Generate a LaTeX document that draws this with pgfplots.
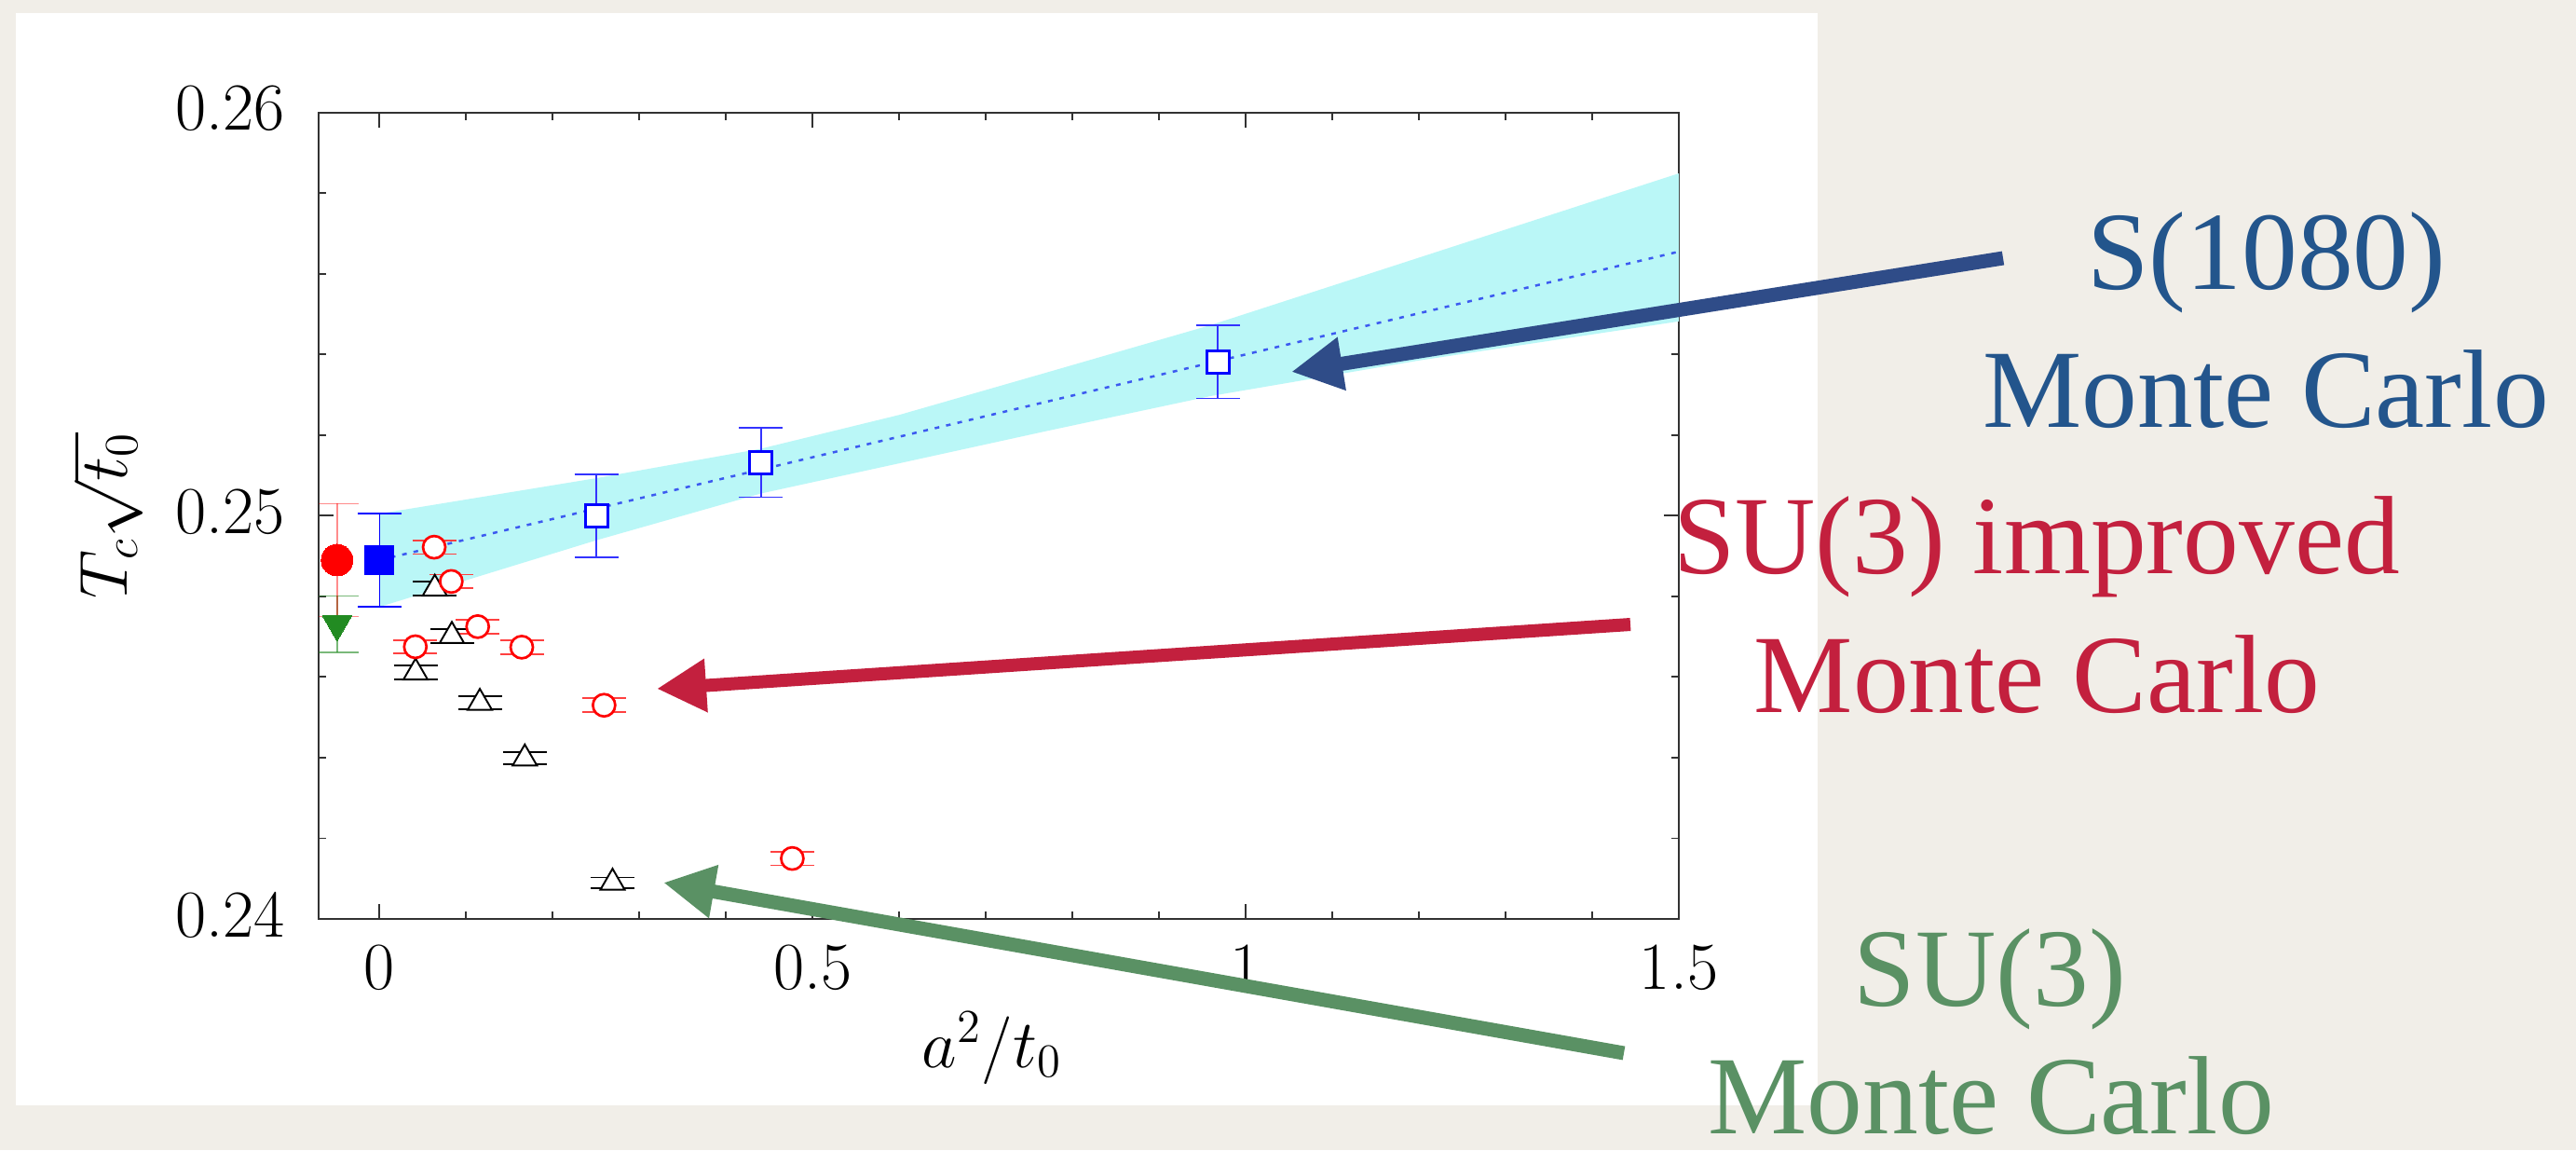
\documentclass[border=0pt]{standalone}
\usepackage{fontspec}
\usepackage{pgfplots}
\pgfplotsset{compat=1.18}
\usetikzlibrary{arrows.meta}
\newfontfamily\annfont{Liberation Serif}
\definecolor{paper}{RGB}{241,238,232}
\definecolor{bluetxt}{RGB}{35,85,140}
\definecolor{bluearr}{RGB}{47,76,136}
\definecolor{redann}{RGB}{195,32,62}
\definecolor{greenann}{RGB}{90,145,100}
\definecolor{bandcol}{RGB}{186,247,247}
\definecolor{fitblue}{RGB}{60,90,240}
\definecolor{framecol}{RGB}{50,50,50}
\definecolor{forest}{RGB}{34,139,34}
\begin{document}
\begin{tikzpicture}
\useasboundingbox (0mm,0mm) rectangle (276.5mm,123.4mm);
\fill[paper] (0mm,0mm) rectangle (276.5mm,123.4mm);
\fill[white] (1.7mm,4.8mm) rectangle (195.1mm,122.0mm);
\begin{axis}[
  at={(34.23mm,24.8mm)}, anchor=south west,
  scale only axis, width=145.97mm, height=86.53mm,
  xmin=-0.07, xmax=1.5, ymin=0.24, ymax=0.26,
  xtick={0,0.5,1,1.5}, xticklabels={0,0.5,1,1.5},
  ytick={0.24,0.25,0.26}, yticklabels={0.24,0.25,0.26},
  minor x tick num=4, minor y tick num=4,
  tick align=inside,
  major tick length=1.6mm, minor tick length=0.8mm,
  axis line style={draw=framecol, line width=0.55pt},
  every tick/.style={draw=framecol, line width=0.55pt},
  tick label style={font=\fontsize{20.5}{24}\selectfont},
  xticklabel style={anchor=north, inner sep=0pt, yshift=-2.7mm},
  yticklabel style={anchor=east, inner sep=0pt, xshift=-3.6mm, yshift=0.45mm},
  xlabel={$a^2/t_0$}, ylabel={$T_c\sqrt{t_0}$},
  label style={font=\fontsize{20.74}{25}\selectfont},
  xlabel style={at={(axis description cs:0.495,-0.18375)}, anchor=base, inner sep=0pt},
  ylabel style={at={(axis description cs:-0.1408,0.5)}, anchor=base, inner sep=0pt},
]
% fit band
\addplot[draw=none, fill=bandcol] coordinates {
 (0,0.25005) (0.25,0.25093) (0.44,0.25166) (0.6,0.25250) (0.77,0.25355) (0.96,0.25473) (1.2,0.25640) (1.5,0.25849)
 (1.5,0.25482) (1.2,0.25385) (0.96,0.25297) (0.77,0.25210) (0.6,0.25130) (0.44,0.25055) (0.25,0.24939) (0,0.24774)
} -- cycle;
% fit line
\addplot[fitblue, line width=0.25mm, dash pattern=on 0.5mm off 0.75mm] coordinates {(0,0.2489) (1.5,0.25655)};
% S(1080) open squares
\addplot[only marks, mark=square*, mark size=1.2mm,
  mark options={draw=blue, fill=white, line width=0.3mm},
  error bars/.cd, y dir=both, y explicit,
  error bar style={blue!80, line width=0.5pt},
  error mark options={blue!80, rotate=90, mark size=2.35mm, line width=0.5pt}]
  table[x=x, y=y, y error=e, row sep=\\] {
  x y e\\
  0.2502 0.25000 0.00103\\
  0.4402 0.25132 0.00086\\
  0.9677 0.25382 0.00091\\
  };
% green down triangle
\addplot[only marks, mark=triangle*, mark size=1.8mm,
  mark options={draw=forest, fill=forest, rotate=180, line width=0pt},
  error bars/.cd, y dir=both, y explicit,
  error bar style={forest, opacity=0.6, line width=0.5pt},
  error mark options={forest, rotate=90, opacity=0.6, mark size=2.35mm, line width=0.5pt}]
  table[x=x, y=y, y error=e, row sep=\\] {
  x y e\\
  -0.049 0.24731 0.0007\\
  };
% red filled circle
\addplot[only marks, mark=*, mark size=1.7mm,
  mark options={draw=red, fill=red, line width=0pt},
  error bars/.cd, y dir=both, y explicit,
  error bar style={red, opacity=0.45, line width=0.5pt},
  error mark options={red, rotate=90, opacity=0.45, mark size=2.35mm, line width=0.5pt}]
  table[x=x, y=y, y error=e, row sep=\\] {
  x y e\\
  -0.049 0.2489 0.0014\\
  };
% blue filled square
\addplot[only marks, mark=square*, mark size=1.55mm,
  mark options={draw=blue, fill=blue, line width=0pt},
  error bars/.cd, y dir=both, y explicit,
  error bar style={blue, line width=0.5pt},
  error mark options={blue, rotate=90, mark size=2.35mm, line width=0.5pt}]
  table[x=x, y=y, y error=e, row sep=\\] {
  x y e\\
  0 0.2489 0.00116\\
  };
% SU(3) triangles
\addplot[only marks, mark=triangle*, mark size=1.5mm,
  mark options={draw=black, fill=white, line width=0.55pt},
  error bars/.cd, y dir=both, y explicit,
  error bar style={black, line width=0.5pt},
  error mark options={black, rotate=90, mark size=2.35mm, line width=0.5pt}]
  table[x=x, y=y, y error=e, row sep=\\] {
  x y e\\
  0.0416 0.24611 0.00017\\
  0.0638 0.24819 0.00017\\
  0.0835 0.24702 0.00017\\
  0.1158 0.24536 0.00016\\
  0.1677 0.24398 0.00015\\
  0.2690 0.24090 0.00013\\
  };
% SU(3) improved circles
\addplot[only marks, mark=*, mark size=1.2mm,
  mark options={draw=red, fill=white, line width=0.27mm},
  error bars/.cd, y dir=both, y explicit,
  error bar style={red!75, line width=0.5pt},
  error mark options={red!75, rotate=90, mark size=2.35mm, line width=0.5pt}]
  table[x=x, y=y, y error=e, row sep=\\] {
  x y e\\
  0.0413 0.24675 0.00017\\
  0.0631 0.24922 0.00017\\
  0.0828 0.24837 0.00017\\
  0.1133 0.24725 0.00017\\
  0.1642 0.24674 0.00017\\
  0.2592 0.24530 0.00017\\
  0.4765 0.24150 0.00017\\
  };
\end{axis}
% arrows
\draw[bluearr, line width=1.5mm, -{Triangle[length=5.5mm, width=5.4mm]}] (215.0mm,95.7mm) -- (138.6mm,83.5mm);
\draw[redann, line width=1.4mm, -{Triangle[length=5.3mm, width=5.4mm]}] (175.0mm,56.4mm) -- (70.5mm,49.5mm);
\draw[greenann, line width=1.5mm, -{Triangle[length=5.5mm, width=5.4mm]}] (174.3mm,10.4mm) -- (71.2mm,28.7mm);
% annotations
\tikzset{ann/.style={anchor=base, inner sep=0pt, font=\annfont\fontsize{34}{40}\selectfont}}
\node[ann, text=bluetxt] at (243.3mm,92.4mm) {S(1080)};
\node[ann, text=bluetxt] at (243.2mm,77.6mm) {Monte Carlo};
\node[ann, text=redann] at (218.6mm,61.9mm) {SU(3) improved};
\node[ann, text=redann] at (218.65mm,47.0mm) {Monte Carlo};
\node[ann, text=greenann] at (213.6mm,15.5mm) {SU(3)};
\node[ann, text=greenann] at (213.7mm,1.8mm) {Monte Carlo};
\end{tikzpicture}
\end{document}
